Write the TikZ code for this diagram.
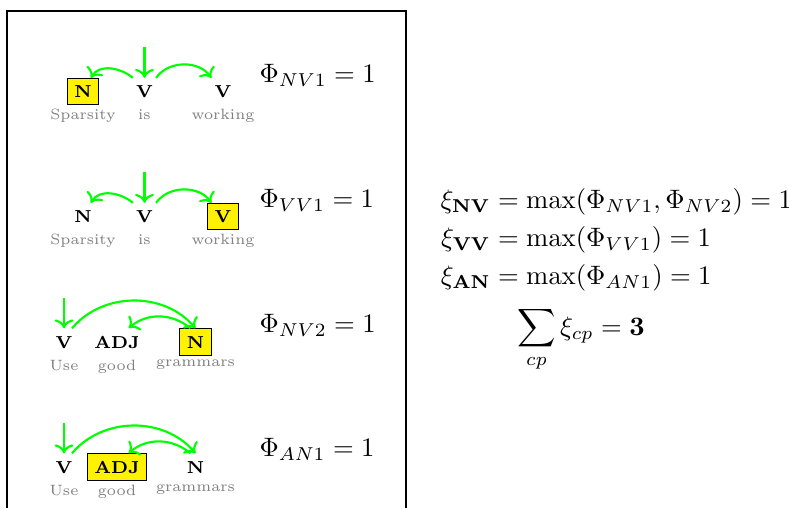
\documentclass[tikz,border=0pt]{standalone}
\usepackage{xcolor}
\usepackage{tikz}
\usetikzlibrary{arrows.meta, positioning}
\usepackage{amsmath}
\setlength{\jot}{2.3pt}

\begin{document}
\begin{tikzpicture}[
    x=0.375pt, y=0.375pt,
    tag/.style={inner sep=2.7pt, anchor=base,
                font=\fontsize{6.5}{7}\selectfont\bfseries},
    headtag/.style={tag, draw=black, fill=yellow},
    word/.style={inner sep=0.5pt, text=black!50,
                 font=\fontsize{5.6}{7}\selectfont},
    phi/.style={anchor=base west, inner sep=0pt},
    arr/.style={->, thick, green},
]
\useasboundingbox (0,0) rectangle (789,508);
\draw (7,0) |- (406,497) -- (406,0);

% Sparsity is working (head N)
\node[headtag] (a1) at (83,410.5) {N};
\node[tag] (b1) at (144.5,410.5) {V};
\node[tag] (c1) at (223,410.5) {V};
\node[word, below=0.8pt of a1] (wa1) {Sparsity};
\node[word, below=0.8pt of b1] (wb1) {is};
\node[word, below=0.8pt of c1] (wc1) {working};
\coordinate[above=11.5pt of b1] (top1);
\draw[arr] (top1) -- (b1);
\draw[arr] (b1.130) to[out=140, in=60] (a1.60);
\draw[arr] (b1.50) to[out=55, in=125] (c1.130);
\node[phi] (phi1) at (259,425) {$\Phi_{NV1} = 1$};

% Sparsity is working (head V)
\node[tag] (a2) at (83,285.5) {N};
\node[tag] (b2) at (144.5,285.5) {V};
\node[headtag] (c2) at (223,285.5) {V};
\node[word, below=0.8pt of a2] (wa2) {Sparsity};
\node[word, below=0.8pt of b2] (wb2) {is};
\node[word, below=0.8pt of c2] (wc2) {working};
\coordinate[above=11.5pt of b2] (top2);
\draw[arr] (top2) -- (b2);
\draw[arr] (b2.130) to[out=140, in=60] (a2.60);
\draw[arr] (b2.50) to[out=55, in=125] (c2.130);
\node[phi] (phi2) at (259,300.5) {$\Phi_{VV1} = 1$};

% Use good grammars (head N)
\node[tag] (a3) at (64,160) {V};
\node[tag] (b3) at (117,160) {ADJ};
\node[headtag] (c3) at (195.5,160) {N};
\node[word, below=0.8pt of a3] (wa3) {Use};
\node[word, below=0.8pt of b3] (wb3) {good};
\node[word, below=0.8pt of c3] (wc3) {grammars};
\coordinate[above=11.5pt of a3] (top3);
\draw[arr] (top3) -- (a3);
\draw[arr] (a3.60) to[out=50, in=130] (c3.north);
\draw[arr] (c3.110) to[out=140, in=40] (b3.50);
\node[phi] (phi3) at (259,176) {$\Phi_{NV2} = 1$};

% Use good grammars (head ADJ)
\node[tag] (a4) at (64,35) {V};
\node[headtag] (b4) at (117,35) {ADJ};
\node[tag] (c4) at (195.5,35) {N};
\node[word, below=0.8pt of a4] (wa4) {Use};
\node[word, below=0.8pt of b4] (wb4) {good};
\node[word, below=0.8pt of c4] (wc4) {grammars};
\coordinate[above=11.5pt of a4] (top4);
\draw[arr] (top4) -- (a4);
\draw[arr] (a4.60) to[out=50, in=130] (c4.north);
\draw[arr] (c4.110) to[out=140, in=40] (b4.50);
\node[phi] (phi4) at (259,51.5) {$\Phi_{AN1} = 1$};

% scores
\node[anchor=west, inner sep=0pt] (eqs) at (440,268) {$\begin{aligned}
  \xi_{\mathbf{NV}} &= \max(\Phi_{NV1}, \Phi_{NV2}) = 1\\
  \xi_{\mathbf{VV}} &= \max(\Phi_{VV1}) = 1\\
  \xi_{\mathbf{AN}} &= \max(\Phi_{AN1}) = 1
\end{aligned}$};
\node[phi] (total) at (516.7,173) {$\displaystyle\sum_{cp}\xi_{cp} = \mathbf{3}$};

\end{tikzpicture}
\end{document}
